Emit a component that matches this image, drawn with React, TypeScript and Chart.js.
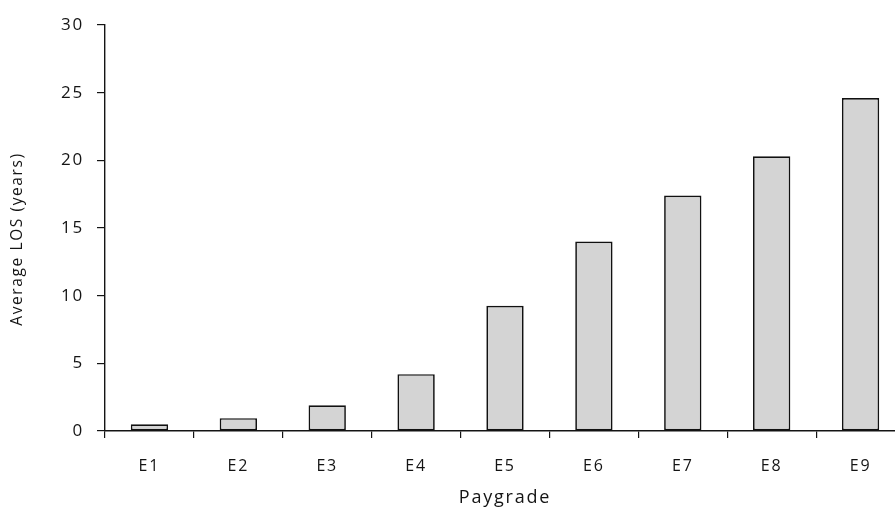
import React, { useEffect, useRef } from "react";
import { Chart, registerables } from "chart.js";

Chart.register(...registerables);

const categories = ["E1", "E2", "E3", "E4", "E5", "E6", "E7", "E8", "E9"];
const avgLOS = [0.5, 0.95, 1.9, 4.2, 9.25, 14.0, 17.4, 20.3, 24.6];
const yTicks = [0, 5, 10, 15, 20, 25, 30];
const xTitle = "Paygrade";
const yTitle = "Average LOS (years)";

const FONT = "'Open Sans', 'DejaVu Sans', sans-serif";
const INK = "#141414";

const spacingPlugin = {
  id: "spacing",
  beforeLayout(chart: any) {
    chart.ctx.letterSpacing = "1.8px";
  },
  beforeDraw(chart: any) {
    chart.ctx.letterSpacing = "1.8px";
  },
};

const yTitlePlugin = {
  id: "yTitle",
  afterDraw(chart: any) {
    const ctx = chart.ctx;
    const area = chart.chartArea;
    ctx.save();
    ctx.letterSpacing = "1.6px";
    ctx.font = `15.5px ${FONT}`;
    ctx.fillStyle = INK;
    ctx.textAlign = "center";
    ctx.textBaseline = "middle";
    ctx.translate(18, (area.top + area.bottom) / 2 + 11);
    ctx.rotate(-Math.PI / 2);
    ctx.fillText(yTitle, 0, 0);
    ctx.restore();
  },
};

export default function App() {
  const ref = useRef<HTMLCanvasElement | null>(null);
  useEffect(() => {
    if (!ref.current) return;
    const chart = new Chart(ref.current, {
      type: "bar",
      data: {
        labels: categories,
        datasets: [
          {
            data: avgLOS,
            backgroundColor: "#d4d4d4",
            borderColor: "#111111",
            borderWidth: 1.7,
            borderSkipped: false,
            barPercentage: 0.84,
            categoryPercentage: 0.5,
          },
        ],
      },
      options: {
        responsive: false,
        animation: false,
        devicePixelRatio: 1,
        layout: { padding: { top: 25, right: 10, left: 0, bottom: 0 } },
        plugins: {
          legend: { display: false },
          tooltip: { enabled: false },
        },
        scales: {
          x: {
            grid: {
              offset: true,
              drawOnChartArea: false,
              drawTicks: true,
              tickLength: 7,
              color: INK,
              lineWidth: 1.2,
            },
            border: { display: true, color: INK, width: 1.4 },
            ticks: {
              color: INK,
              font: { family: FONT, size: 16 },
              padding: 19,
            },
            title: {
              display: true,
              text: xTitle,
              color: INK,
              font: { family: FONT, size: 18 },
              padding: { top: 0, bottom: 8 },
            },
            afterFit(scale: any) {
              scale.height = 86;
            },
          },
          y: {
            min: 0,
            max: 30,
            afterBuildTicks(scale: any) {
              scale.ticks = yTicks.map((v) => ({ value: v }));
            },
            grid: {
              drawOnChartArea: false,
              drawTicks: true,
              tickLength: 8,
              color: INK,
              lineWidth: 1.2,
            },
            border: { display: true, color: INK, width: 1.4 },
            ticks: {
              color: INK,
              font: { family: FONT, size: 17 },
              padding: 13,
            },
            title: { display: false },
            afterFit(scale: any) {
              scale.width = 105;
            },
          },
        },
      },
      plugins: [spacingPlugin, yTitlePlugin],
    });
    return () => chart.destroy();
  }, []);
  return (
    <div style={{ position: "fixed", left: 0, top: 0, width: 915, height: 517, background: "#fff" }}>
      <canvas ref={ref} width={915} height={517} style={{ display: "block" }} />
    </div>
  );
}
